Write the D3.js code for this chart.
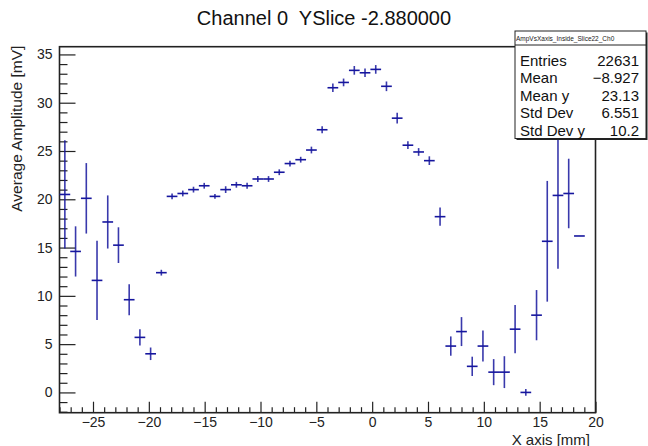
<!DOCTYPE html>
<html>
<head>
<meta charset="utf-8">
<script src="https://cdn.jsdelivr.net/npm/d3@7"></script>
<style>
  html, body { margin: 0; padding: 0; background: #fff; }
  svg { display: block; font-family: "Liberation Sans", Arial, Helvetica, sans-serif; }
</style>
</head>
<body>
<svg id="chart" width="648" height="446"></svg>
<script>
// ---- data ----
const chartTitle = "Channel 0  YSlice -2.880000";
const xTitle = "X axis [mm]";
const yTitle = "Average Amplitude [mV]";
const binHalfWidth = 0.48;
const xCenters = [-27.52, -26.56, -25.60, -24.64, -23.68, -22.72, -21.76, -20.80, -19.84, -18.88,
  -17.92, -16.96, -16.00, -15.04, -14.08, -13.12, -12.16, -11.20, -10.24, -9.28,
  -8.32, -7.36, -6.40, -5.44, -4.48, -3.52, -2.56, -1.60, -0.64, 0.32,
  1.28, 2.24, 3.20, 4.16, 5.12, 6.08, 7.04, 8.00, 8.96, 9.92,
  10.88, 11.84, 12.80, 13.76, 14.72, 15.68, 16.64, 17.60, 18.56];
const yValues = [20.5, 14.6, 20.1, 11.6, 17.65, 15.25, 9.6, 5.7, 4.0, 12.4,
  20.3, 20.6, 21.0, 21.4, 20.3, 21.0, 21.5, 21.4, 22.1, 22.1,
  22.8, 23.7, 24.1, 25.1, 27.2, 31.55, 32.1, 33.35, 33.1, 33.45,
  31.7, 28.4, 25.6, 24.9, 24.0, 18.2, 4.8, 6.3, 2.7, 4.8,
  2.1, 2.1, 6.55, 0.0, 8.0, 15.65, 20.4, 20.6, 16.2];
const yErrors = [5.6, 2.6, 3.65, 4.1, 2.75, 1.85, 1.6, 0.85, 0.65, 0.3,
  0.3, 0.3, 0.3, 0.3, 0.25, 0.35, 0.3, 0.3, 0.3, 0.3,
  0.3, 0.3, 0.3, 0.35, 0.35, 0.45, 0.4, 0.45, 0.45, 0.45,
  0.5, 0.55, 0.4, 0.4, 0.45, 0.95, 1.0, 1.5, 1.0, 1.6,
  1.35, 1.65, 2.5, 0.35, 2.6, 6.25, 7.6, 3.6, 0];
const xTickValues = [-25, -20, -15, -10, -5, 0, 5, 10, 15, 20];
const yTickValues = [0, 5, 10, 15, 20, 25, 30, 35];
const statsName = "AmpVsXaxis_Inside_Slice22_Ch0";
const statsLabels = ["Entries", "Mean", "Mean y", "Std Dev", "Std Dev y"];
const statsValues = ["22631", "\u22128.927", "23.13", "6.551", "10.2"];

// ---- layout ----
const svg = d3.select("#chart");
const L = 59.5, R = 595.5, T = 46.7, B = 412.7;
const x = d3.scaleLinear().domain([-28, 20]).range([L, R]);
const y = d3.scaleLinear().domain([-2.1, 35.8]).range([B, T]);
const axisColor = "#222";
const markColor = "#16169e";

svg.append("rect").attr("width", 648).attr("height", 446).attr("fill", "#fff");

// title
svg.append("text").attr("x", 324).attr("y", 25).attr("text-anchor", "middle")
  .style("white-space", "pre").attr("xml:space", "preserve")
  .attr("font-size", 20).attr("fill", "#111").text(chartTitle);

// x axis (ticks inside, pointing up)
const xAxis = d3.axisBottom(x).tickValues(xTickValues).tickSize(-11).tickPadding(4)
  .tickFormat(d => d < 0 ? "\u2212" + Math.abs(d) : String(d));
const gx = svg.append("g").attr("transform", `translate(0,${B})`).call(xAxis);
gx.select(".domain").remove();
gx.selectAll("line").attr("stroke", axisColor).attr("stroke-width", 1.2);
gx.selectAll("text").attr("font-size", 14).attr("fill", "#222").attr("font-family", "Liberation Sans, Arial, sans-serif");
const xMinor = d3.range(-28, 21, 1).filter(v => v % 5 !== 0);
const gxm = svg.append("g").attr("transform", `translate(0,${B})`)
  .call(d3.axisBottom(x).tickValues(xMinor).tickSize(-5.5).tickFormat(""));
gxm.select(".domain").remove();
gxm.selectAll("line").attr("stroke", axisColor).attr("stroke-width", 1.2);

// y axis (ticks inside, pointing right)
const yAxis = d3.axisLeft(y).tickValues(yTickValues).tickSize(-16).tickPadding(7);
const gy = svg.append("g").attr("transform", `translate(${L},0)`).call(yAxis);
gy.select(".domain").remove();
gy.selectAll("line").attr("stroke", axisColor).attr("stroke-width", 1.2);
gy.selectAll("text").attr("font-size", 14).attr("fill", "#222").attr("font-family", "Liberation Sans, Arial, sans-serif");
const yMinor = d3.range(-2, 36, 1).filter(v => v % 5 !== 0);
const gym = svg.append("g").attr("transform", `translate(${L},0)`)
  .call(d3.axisLeft(y).tickValues(yMinor).tickSize(-8).tickFormat(""));
gym.select(".domain").remove();
gym.selectAll("line").attr("stroke", axisColor).attr("stroke-width", 1.2);

// frame
svg.append("rect").attr("x", L).attr("y", T).attr("width", R - L).attr("height", B - T)
  .attr("fill", "none").attr("stroke", axisColor).attr("stroke-width", 1.6);

// axis titles
svg.append("text").attr("x", 590).attr("y", 444.5).attr("text-anchor", "end")
  .attr("font-size", 15).attr("fill", "#222").text(xTitle);
svg.append("text").attr("transform", `translate(22,${T - 1}) rotate(-90)`).attr("text-anchor", "end")
  .attr("font-size", 15.5).attr("fill", "#222").text(yTitle);

// data: error-bar crosses
const pts = xCenters.map((xc, i) => ({ x: xc, v: yValues[i], e: yErrors[i] }));
const gd = svg.append("g");
gd.selectAll("line.h").data(pts).join("line").attr("class", "h")
  .attr("x1", d => x(d.x - binHalfWidth)).attr("x2", d => x(d.x + binHalfWidth))
  .attr("y1", d => y(d.v)).attr("y2", d => y(d.v))
  .attr("stroke", markColor).attr("stroke-width", 1.6);
gd.selectAll("line.v").data(pts.filter(d => d.e > 0)).join("line").attr("class", "v")
  .attr("x1", d => x(d.x)).attr("x2", d => x(d.x))
  .attr("y1", d => y(d.v + d.e)).attr("y2", d => y(d.v - d.e))
  .attr("stroke", markColor).attr("stroke-width", 1.6).attr("stroke-opacity", 0.85);

// stats box
const sb = svg.append("g");
const bx = 515, bw = 131, by = 31, hh = 14, bh = 107.5;
sb.append("rect").attr("x", bx + 1.5).attr("y", by + 1.5).attr("width", bw).attr("height", bh).attr("fill", "#222");
sb.append("rect").attr("x", bx).attr("y", by).attr("width", bw).attr("height", bh)
  .attr("fill", "#fff").attr("stroke", "#222").attr("stroke-width", 1);
sb.append("line").attr("x1", bx).attr("x2", bx + bw).attr("y1", by + hh).attr("y2", by + hh)
  .attr("stroke", "#222").attr("stroke-width", 1);
sb.append("text").attr("x", bx + 1).attr("y", by + 9.5).attr("font-size", 6.5).attr("fill", "#222")
  .text(statsName);
const rowY = [65.5, 83, 100.5, 118, 135.5];
statsLabels.forEach((lab, i) => {
  sb.append("text").attr("x", bx + 5).attr("y", rowY[i]).attr("font-size", 15).attr("fill", "#111").text(lab);
  sb.append("text").attr("x", bx + bw - 7).attr("y", rowY[i]).attr("text-anchor", "end")
    .attr("font-size", 15).attr("fill", "#111").text(statsValues[i]);
});
</script>
</body>
</html>
